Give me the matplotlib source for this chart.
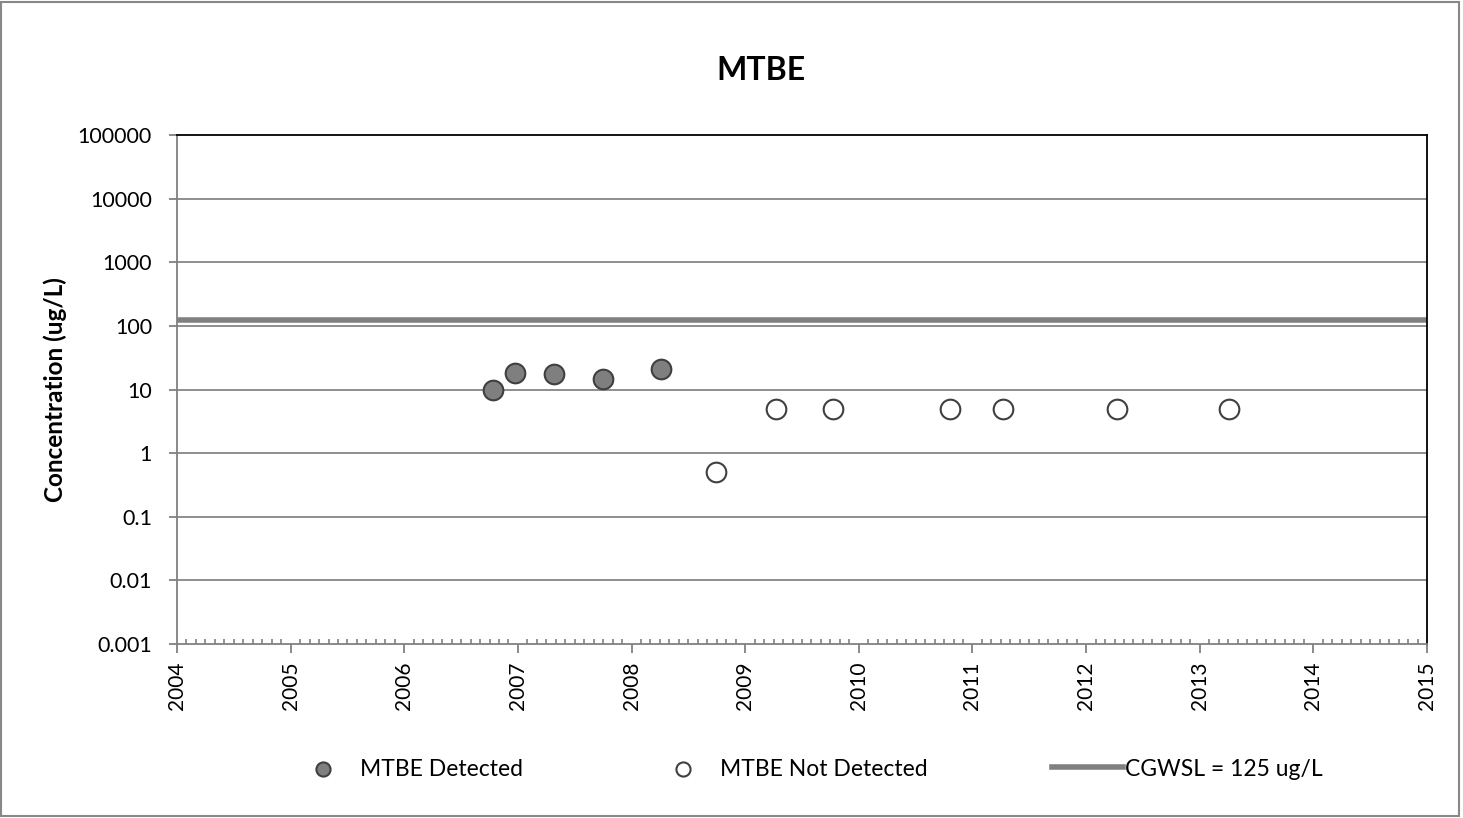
import matplotlib.pyplot as plt
from matplotlib.ticker import FixedLocator, NullFormatter
from matplotlib.patches import Rectangle

plt.rcParams['font.family'] = ['Lato', 'DejaVu Sans']

# sample dates (decimal years) and concentrations in ug/L
det_dates = [2006.78, 2006.97, 2007.32, 2007.75, 2008.26]
det_vals = [10, 18, 17.5, 14.6, 21]
nd_dates = [2008.74, 2009.27, 2009.77, 2010.80, 2011.27, 2012.27, 2013.26]
nd_vals = [0.5, 5, 5, 5, 5, 5, 5]
cgwsl = 125
years = list(range(2004, 2016))
ylevels = [0.001, 0.01, 0.1, 1, 10, 100, 1000, 10000, 100000]
ylabels = ['0.001', '0.01', '0.1', '1', '10', '100', '1000', '10000', '100000']

fig = plt.figure(figsize=(14.63, 8.18), dpi=100)
ax = fig.add_axes([177 / 1463, 1 - 644 / 818, 1250 / 1463, 509 / 818])

ax.set_yscale('log')
ax.set_xlim(2004, 2015)
ax.set_ylim(0.001, 100000)

for v in ylevels[1:-1]:
    ax.axhline(v, color='#868686', lw=1.3, zorder=1)

ax.axhline(cgwsl, color='#808080', lw=4, zorder=2, label='CGWSL = 125 ug/L')
ax.scatter(det_dates, det_vals, s=200, c='#7f7f7f', edgecolors='#404040',
           linewidths=1.5, zorder=3, label='MTBE Detected')
ax.scatter(nd_dates, nd_vals, s=200, c='white', edgecolors='#404040',
           linewidths=1.5, zorder=3, label='MTBE Not Detected')

ax.xaxis.set_major_locator(FixedLocator(years))
ax.xaxis.set_minor_locator(FixedLocator([y + m / 12 for y in years[:-1] for m in range(1, 12)]))
ax.set_xticklabels([str(y) for y in years], rotation=90, fontsize=15)
ax.tick_params(axis='x', which='major', direction='out', length=6.5, width=1.3,
               color='#808080', pad=6)
ax.tick_params(axis='x', which='minor', direction='in', length=3.5, width=1.2, color='#808080')

ax.yaxis.set_major_locator(FixedLocator(ylevels))
ax.yaxis.set_minor_formatter(NullFormatter())
ax.yaxis.set_minor_locator(FixedLocator([]))
ax.set_yticklabels(ylabels, fontsize=15.5)
ax.tick_params(axis='y', which='major', direction='out', length=6, width=1.3,
               color='#808080', pad=12)
ax.set_ylabel('Concentration (ug/L)', fontsize=17.5, fontweight='bold', labelpad=8)

ax.spines['left'].set_color('#808080')
ax.spines['bottom'].set_color('#808080')
ax.spines['top'].set_color('black')
ax.spines['right'].set_color('black')
for s in ax.spines.values():
    s.set_linewidth(1.3)

fig.text(761 / 1463, 1 - 70 / 818, 'MTBE', ha='center', va='center', fontsize=23, fontweight='bold')

h, l = ax.get_legend_handles_labels()
order = [1, 2, 0]
fig.legend([h[i] for i in order], [l[i] for i in order], loc='center left',
           bbox_to_anchor=(287 / 1463, 1 - 769 / 818), ncol=3, frameon=False,
           fontsize=16.5, columnspacing=5.4, handlelength=3.1, handletextpad=0.1,
           markerscale=0.72, borderpad=0, borderaxespad=0)

# outer chart border
fig.patches.append(Rectangle((0.001, 0.002), 0.996, 0.996, transform=fig.transFigure,
                             fill=False, edgecolor='#888888', lw=1.5))

fig.savefig('out.png', dpi=100)
